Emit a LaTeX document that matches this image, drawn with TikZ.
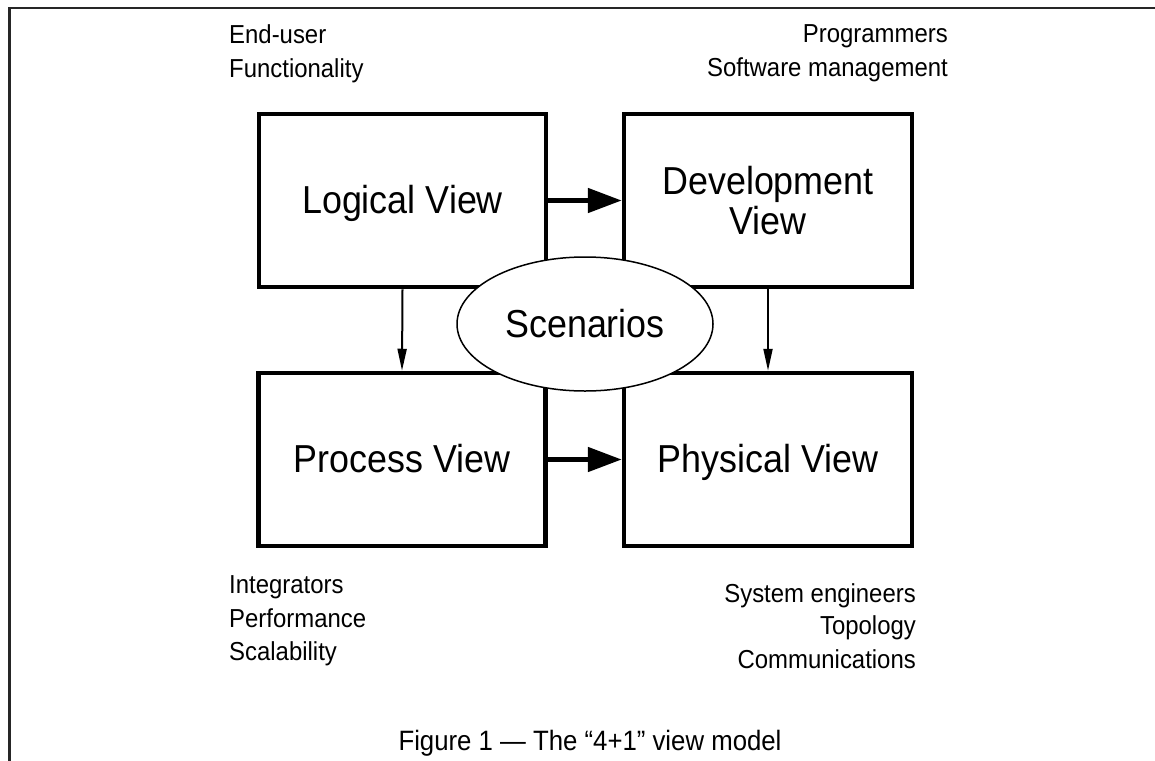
\documentclass[tikz,border=0pt]{standalone}
\usepackage{fontspec}
\setmainfont{Liberation Sans}[FakeStretch=0.92]
\usetikzlibrary{arrows.meta,shapes.geometric}
\tikzset{
  viewbox/.style={draw=black, line width=4.5pt, rectangle, minimum width=287pt, minimum height=173pt, inner sep=0pt, align=center, font=\fontsize{39}{40}\selectfont},
  oneline/.style={text height=32pt, text depth=6pt},
  scen/.style={draw=black, line width=1.5pt, fill=white, ellipse, minimum width=256pt, minimum height=134pt, inner sep=0pt, text height=32pt, text depth=6pt, font=\fontsize{39}{40}\selectfont},
  lbl/.style={inner sep=0pt, font=\fontsize{26}{33}\selectfont},
  captiontext/.style={inner sep=0pt, font=\fontsize{28}{33}\selectfont},
  bigarrow/.style={line width=5pt, -{Triangle[length=34pt,width=24pt]}},
  smallarrow/.style={line width=2pt, -{Triangle[length=22pt,width=9pt]}},
  frameline/.style={line width=2.5pt, draw=black!85}
}
\begin{document}
\begin{tikzpicture}[x=1pt,y=-1pt]
\useasboundingbox (0,0) rectangle (1155,760);
% outer frame (cropped)
\coordinate (fbl) at (9.5,762);
\coordinate (ftl) at (9.5,8);
\coordinate (ftr) at (1157,8);
\draw[frameline] (fbl) -- (ftl) -- (ftr);
% boxes
\node[viewbox, oneline] (logical) at (402.5,200.5) {Logical View};
\node[viewbox, minimum width=288pt] (dev) at (768,200.5) {Development\\View};
\node[viewbox, oneline] (process) at (402,459.5) {Process View};
\node[viewbox, oneline, minimum width=288pt] (phys) at (768,459.5) {Physical View};
% arrows
\draw[bigarrow] (logical.east) -- (dev.west);
\draw[bigarrow] (process.east) -- (phys.west);
\draw[smallarrow] (logical.south) -- (process.north);
\draw[smallarrow] (dev.south) -- (phys.north);
% scenarios
\node[scen] (scenarios) at (585,324) {Scenarios};
% labels
\node[lbl, anchor=base west] (enduser) at (229,44) {End-user};
\node[lbl, anchor=base west] (functionality) at (229,77) {Functionality};
\node[lbl, anchor=base east] (programmers) at (948,43) {Programmers};
\node[lbl, anchor=base east] (softmgmt) at (948,76) {Software management};
\node[lbl, anchor=base west] (integrators) at (229,593) {Integrators};
\node[lbl, anchor=base west] (performance) at (229,627) {Performance};
\node[lbl, anchor=base west] (scalability) at (229,660) {Scalability};
\node[lbl, anchor=base east] (syseng) at (916,602) {System engineers};
\node[lbl, anchor=base east] (topology) at (916,634) {Topology};
\node[lbl, anchor=base east] (comms) at (916,668) {Communications};
\node[captiontext, anchor=base] (caption) at (590,750) {Figure 1 — The “4+1” view model};
\end{tikzpicture}
\end{document}
